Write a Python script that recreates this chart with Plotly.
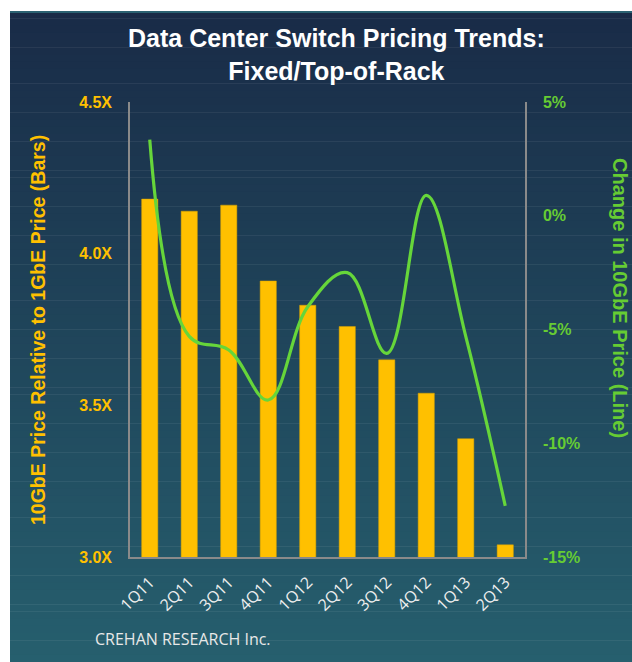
import plotly.graph_objects as go

categories = ["1Q11", "2Q11", "3Q11", "4Q11", "1Q12", "2Q12", "3Q12", "4Q12", "1Q13", "2Q13"]
price_ratio = [4.18, 4.14, 4.16, 3.91, 3.83, 3.76, 3.65, 3.54, 3.39, 3.04]
price_change = [3.35, -5.3, -5.9, -8.1, -4.0, -2.5, -6.05, 0.9, -5.3, -12.75]

left_ticks = [3.0, 3.5, 4.0, 4.5]
left_ticktext = ["3.0X", "3.5X", "4.0X", "4.5X"]
right_ticks = [-15, -10, -5, 0, 5]
right_ticktext = ["-15%", "-10%", "-5%", "0%", "5%"]

GOLD = "#FFC000"
GREEN = "#66D63A"
GREEN_TXT = "#66CC33"

fig = go.Figure()
fig.add_trace(go.Bar(
    x=categories, y=price_ratio, marker=dict(color=GOLD, line=dict(color="#d9a400", width=0.5)),
    yaxis="y", name="Bars", hoverinfo="x+y"))
fig.add_trace(go.Scatter(
    x=categories, y=price_change, mode="lines", yaxis="y2", name="Line",
    line=dict(color=GREEN, width=3.2, shape="spline", smoothing=1.1)))

# gradient background (px -> paper conversions)
W, H = 632, 662
L, R, T, B = 130, 525, 102, 557
def px_x(p):
    return (p - L) / (R - L)
def px_y(p):
    return (B - p) / (B - T)

top_c = (25, 43, 71)
bot_c = (38, 95, 110)
shapes = []
n = 90
y0p, y1p = 11, H
for i in range(n):
    a = y0p + (y1p - y0p) * i / n
    b = y0p + (y1p - y0p) * (i + 1) / n
    t = (i + 0.5) / n
    c = tuple(int(round(top_c[k] + (bot_c[k] - top_c[k]) * t)) for k in range(3))
    shapes.append(dict(type="rect", xref="paper", yref="paper", layer="below",
                       x0=px_x(10), x1=px_x(W + 2), y0=px_y(b + 0.5), y1=px_y(a),
                       fillcolor="rgb(%d,%d,%d)" % c, line=dict(width=0)))
shapes.append(dict(type="rect", xref="paper", yref="paper", layer="below",
                   x0=px_x(10), x1=px_x(W + 2), y0=px_y(13), y1=px_y(11),
                   fillcolor="#2b6272", line=dict(width=0)))

axis_line = "#8a8a8a"
fig.update_layout(
    width=W, height=H,
    margin=dict(l=L, r=W - R, t=T, b=H - B, pad=0),
    paper_bgcolor="white", plot_bgcolor="rgba(0,0,0,0)",
    showlegend=False, bargap=0.59,
    shapes=shapes,
    font=dict(family="Liberation Sans, Arial", color="white"),
    xaxis=dict(
        showgrid=False, zeroline=False, showline=True, linecolor=axis_line, linewidth=1.5,
        tickangle=-45, ticks="outside", ticklen=8, tickcolor="rgba(0,0,0,0)",
        tickfont=dict(family="Open Sans", size=16, color="#eeeeee", weight=500),
        mirror=False),
    yaxis=dict(
        range=[3.0, 4.5], tickvals=left_ticks, ticktext=left_ticktext,
        showgrid=False, zeroline=False, showline=True, linecolor=axis_line, linewidth=1.5,
        ticks="outside", ticklen=13, tickcolor="rgba(0,0,0,0)",
        tickfont=dict(family="Liberation Sans, Arial", size=16, color=GOLD, weight="bold")),
    yaxis2=dict(
        range=[-15, 5], tickvals=right_ticks, ticktext=right_ticktext,
        overlaying="y", side="right",
        showgrid=False, zeroline=False, showline=True, linecolor=axis_line, linewidth=1.5,
        ticks="outside", ticklen=13, tickcolor="rgba(0,0,0,0)",
        tickfont=dict(family="Liberation Sans, Arial", size=16, color=GREEN_TXT, weight="bold")),
)

fig.add_annotation(
    text="<b>Data Center Switch Pricing Trends:<br>Fixed/Top-of-Rack</b>",
    xref="paper", yref="paper", x=px_x(336), y=px_y(55), xanchor="center", yanchor="middle",
    showarrow=False, font=dict(family="Liberation Sans, Arial", size=25, color="white"))
fig.add_annotation(
    text="<b>10GbE Price Relative to 1GbE Price (Bars)</b>",
    xref="paper", yref="paper", x=px_x(38), y=px_y(330), xanchor="center", yanchor="middle",
    textangle=-90, showarrow=False,
    font=dict(family="Liberation Sans, Arial", size=19.5, color=GOLD))
fig.add_annotation(
    text="<b>Change in 10GbE Price (Line)</b>",
    xref="paper", yref="paper", x=px_x(620), y=px_y(298), xanchor="center", yanchor="middle",
    textangle=90, showarrow=False,
    font=dict(family="Liberation Sans, Arial", size=20, color=GREEN_TXT))
fig.add_annotation(
    text="CREHAN RESEARCH Inc.",
    xref="paper", yref="paper", x=px_x(93), y=px_y(639), xanchor="left", yanchor="middle",
    showarrow=False, font=dict(family="Open Sans", size=16, color="#e8e8e8"))

fig.write_html("out.html", config={"displayModeBar": False},
               post_script="document.body.style.margin='0';document.body.style.overflow='hidden';")
